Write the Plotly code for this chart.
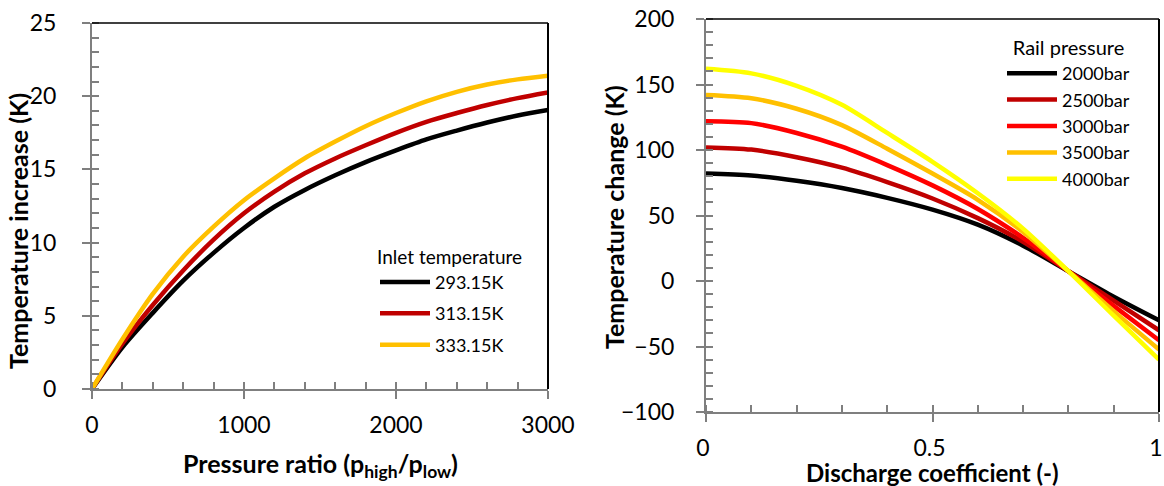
import plotly.graph_objects as go

# ---------------- data ----------------
pressure_ratio = [0, 200, 400, 600, 800, 1000, 1200, 1400, 1600, 1800, 2000, 2200, 2400, 2600, 2800, 3000]
inlet_labels = ["293.15K", "313.15K", "333.15K"]
t_293 = [0, 2.85, 5.2, 7.4, 9.3, 11.0, 12.45, 13.6, 14.6, 15.5, 16.3, 17.05, 17.65, 18.2, 18.68, 19.06]
t_313 = [0, 3.1, 5.74, 8.1, 10.2, 12.0, 13.48, 14.73, 15.75, 16.65, 17.5, 18.25, 18.85, 19.4, 19.87, 20.26]
t_333 = [0, 3.4, 6.5, 9.04, 11.09, 12.9, 14.39, 15.76, 16.9, 17.95, 18.85, 19.65, 20.3, 20.8, 21.15, 21.4]

discharge_coeff = [0, 0.1, 0.2, 0.3, 0.4, 0.5, 0.6, 0.7, 0.8, 0.9, 1.0]
rail_labels = ["2000bar", "2500bar", "3000bar", "3500bar", "4000bar"]
dt_2000 = [82, 80.5, 76.5, 71, 63.5, 54.5, 43, 27, 7.5, -12, -30]
dt_2500 = [102, 100.3, 94.5, 86.5, 75.5, 63, 48, 30, 7.5, -15, -37.6]
dt_3000 = [122, 120.5, 113, 102.5, 88.5, 73, 55, 33, 7.5, -19, -45.2]
dt_3500 = [142, 139.5, 131.5, 119, 101, 82, 62, 37.5, 7.5, -23, -52.3]
dt_4000 = [162, 158.5, 149, 134.5, 113, 91, 67, 40, 7.5, -26.5, -60]

left_colors = ["#000000", "#C00000", "#FFC000"]
right_colors = ["#000000", "#C00000", "#FF0000", "#FFC000", "#FFFF00"]

FONT = "Lato"
AX = "#7F7F7F"

fig = go.Figure()

for name, ys, col in zip(inlet_labels, [t_293, t_313, t_333], left_colors):
    fig.add_trace(go.Scatter(x=pressure_ratio, y=ys, name=name, mode="lines",
                             line=dict(color=col, width=4.5, shape="spline", smoothing=0.8),
                             xaxis="x", yaxis="y", legend="legend", legendgroup=name))

for name, ys, col in zip(rail_labels, [dt_2000, dt_2500, dt_3000, dt_3500, dt_4000], right_colors):
    fig.add_trace(go.Scatter(x=discharge_coeff, y=ys, name=name, mode="lines",
                             line=dict(color=col, width=4.5, shape="spline", smoothing=0.8),
                             xaxis="x2", yaxis="y2", legend="legend2", legendgroup=name))

L_X = [92 / 1164, 548 / 1164]
L_Y = [1 - 389 / 486, 1 - 23 / 486]
R_X = [706 / 1164, 1159 / 1164]
R_Y = [1 - 412 / 486, 1 - 19 / 486]

tickfont = dict(family=FONT, size=23, color="#000000")

def main_axis(domain, rng, tickvals, minor_dtick, anchor, standoff, shift=0):
    return dict(domain=domain, range=rng, tickmode="array", tickvals=tickvals, anchor=anchor,
                showgrid=False, zeroline=False, showline=True, linecolor=AX, linewidth=2,
                ticks="outside", ticklen=8, tickwidth=1.5, tickcolor=AX,
                minor=dict(ticks="inside", ticklen=7, tickwidth=1.5, tickcolor=AX,
                           tickmode="linear", dtick=minor_dtick, tick0=0, showgrid=False),
                tickfont=tickfont, ticklabelstandoff=standoff, ticklabelshift=shift,
                ticklabeloverflow="allow", automargin=False, fixedrange=True)

def overlay_axis(over, rng, tickvals, anchor, side):
    return dict(overlaying=over, range=rng, tickmode="array", tickvals=tickvals, anchor=anchor, side=side,
                showgrid=False, zeroline=False, showline=False, showticklabels=False,
                ticks="inside", ticklen=7, tickwidth=1.5, tickcolor=AX, automargin=False, fixedrange=True)

lx_ticks = [0, 1000, 2000, 3000]
ly_ticks = [0, 5, 10, 15, 20, 25]
rx_ticks = [0, 0.5, 1]
ry_ticks = [-100, -50, 0, 50, 100, 150, 200]

fig.update_layout(
    width=1164, height=486, margin=dict(l=0, r=0, t=0, b=0),
    paper_bgcolor="white", plot_bgcolor="white",
    font=dict(family=FONT, color="#000000"),
    xaxis=main_axis(L_X, [0, 3000], lx_ticks, 200, "y", 6),
    yaxis=main_axis(L_Y, [0, 25], ly_ticks, 1, "x", 21),
    xaxis2=main_axis(R_X, [0, 1], rx_ticks, 0.1, "y2", 6, shift=-3),
    yaxis2=main_axis(R_Y, [-100, 200], ry_ticks, 10, "x2", 17),
    xaxis3=overlay_axis("x", [0, 3000], lx_ticks, "y", "bottom"),
    yaxis3=overlay_axis("y", [0, 25], ly_ticks, "x", "left"),
    xaxis4=overlay_axis("x2", [0, 1], rx_ticks, "y2", "bottom"),
    yaxis4=overlay_axis("y2", [-100, 200], ry_ticks, "x2", "left"),
    legend=dict(x=375 / 1164, y=1 - 239 / 486, xanchor="left", yanchor="top",
                bgcolor="rgba(0,0,0,0)", font=dict(family=FONT, size=18),
                title=dict(text="Inlet temperature", font=dict(family=FONT, size=19)),
                traceorder="grouped", tracegroupgap=5, itemwidth=50),
    legend2=dict(x=1002 / 1164, y=1 - 29 / 486, xanchor="left", yanchor="top",
                 bgcolor="rgba(0,0,0,0)", font=dict(family=FONT, size=18),
                 title=dict(text="Rail pressure", font=dict(family=FONT, size=20), side="top center"),
                 traceorder="grouped", tracegroupgap=0, itemwidth=50),
    showlegend=True,
)

# black frame on top and right edges of both plot areas
for xr, yr in [("x domain", "y domain"), ("x2 domain", "y2 domain")]:
    fig.add_shape(type="line", xref=xr, yref=yr, x0=0, x1=1, y0=1, y1=1, line=dict(color="#000000", width=1.5))
    fig.add_shape(type="line", xref=xr, yref=yr, x0=1, x1=1, y0=0, y1=1, line=dict(color="#000000", width=2))

title_font = dict(family=FONT, size=25, color="#000000")
fig.add_annotation(text="<b>Pressure ratio (p<sub>high</sub>/p<sub>low</sub>)</b>", xref="paper", yref="paper",
                   x=320 / 1164, y=1 - 465 / 486, xanchor="center", yanchor="middle", showarrow=False, font=title_font)
fig.add_annotation(text="<b>Discharge coefficient (-)</b>", xref="paper", yref="paper",
                   x=932 / 1164, y=1 - 472 / 486, xanchor="center", yanchor="middle", showarrow=False,
                   font=dict(family=FONT, size=24, color="#000000"))
fig.add_annotation(text="<b>Temperature increase (K)</b>", xref="paper", yref="paper", textangle=-90,
                   x=18 / 1164, y=1 - 231 / 486, xanchor="center", yanchor="middle", showarrow=False, font=title_font)
fig.add_annotation(text="<b>Temperature change (K)</b>", xref="paper", yref="paper", textangle=-90,
                   x=614 / 1164, y=1 - 217 / 486, xanchor="center", yanchor="middle", showarrow=False, font=title_font)

fig.write_html("out.html")
